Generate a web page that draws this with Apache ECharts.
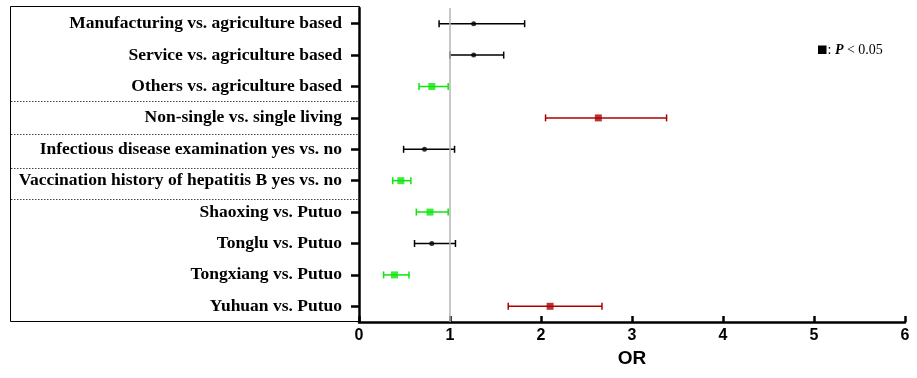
<!DOCTYPE html>
<html>
<head>
<meta charset="utf-8">
<script src="https://cdn.jsdelivr.net/npm/echarts@6/dist/echarts.min.js"></script>
<style>
html, body { margin: 0; padding: 0; background: #fff; }
#chart { width: 917px; height: 378px; }
</style>
</head>
<body>
<div id="chart"></div>
<script>
var categories = [
    'Manufacturing vs. agriculture based',
    'Service vs. agriculture based',
    'Others vs. agriculture based',
    'Non-single vs. single living',
    'Infectious disease examination yes vs. no',
    'Vaccination history of hepatitis B yes vs. no',
    'Shaoxing vs. Putuo',
    'Tonglu vs. Putuo',
    'Tongxiang vs. Putuo',
    'Yuhuan vs. Putuo'
];
var orValues = [1.26, 1.26, 0.80, 2.63, 0.72, 0.46, 0.78, 0.80, 0.39, 2.10];
var ciLower  = [0.88, 1.00, 0.66, 2.05, 0.49, 0.37, 0.63, 0.61, 0.27, 1.64];
var ciUpper  = [1.82, 1.59, 0.98, 3.38, 1.05, 0.57, 0.98, 1.06, 0.55, 2.67];
var xMin = 0, xMax = 6, xStep = 1;

// significant if the CI does not cross OR = 1
function colorFor(i) {
    if (ciUpper[i] < 1) return '#0ce60c';
    if (ciLower[i] > 1) return '#ad0000';
    return '#000';
}
function isSig(i) {
    return ciUpper[i] < 1 || ciLower[i] > 1;
}

var barData = [];
var pointData = [];
for (var i = 0; i < categories.length; i++) {
    barData.push([ciLower[i], ciUpper[i], categories[i]]);
    pointData.push({
        value: [orValues[i], categories[i]],
        symbol: isSig(i) ? 'rect' : 'circle',
        symbolSize: isSig(i) ? 7 : 5,
        itemStyle: {color: colorFor(i)}
    });
}

function renderErrorBar(params, api) {
    var idx = params.dataIndex;
    var lo = api.coord([api.value(0), idx]);
    var hi = api.coord([api.value(1), idx]);
    var cap = 3.5;
    var style = {stroke: colorFor(idx), lineWidth: 1.5};
    return {
        type: 'group',
        children: [
            {type: 'line', shape: {x1: lo[0], y1: lo[1], x2: hi[0], y2: hi[1]}, style: style},
            {type: 'line', shape: {x1: lo[0], y1: lo[1] - cap, x2: lo[0], y2: lo[1] + cap}, style: style},
            {type: 'line', shape: {x1: hi[0], y1: hi[1] - cap, x2: hi[0], y2: hi[1] + cap}, style: style}
        ]
    };
}

var sepY = [101.5, 134.5, 168.5, 199.5];
var graphics = [
    {
        type: 'rect', z: 0,
        shape: {x: 10.5, y: 6.5, width: 349, height: 315},
        style: {fill: 'none', stroke: '#000', lineWidth: 1}
    },
    {
        type: 'rect', z: 10,
        shape: {x: 818, y: 45.5, width: 8.5, height: 8.5},
        style: {fill: '#000'}
    },
    {
        type: 'text', z: 10, x: 827.5, y: 50,
        style: {
            text: '{n|: }{p|P}{n| < 0.05}',
            verticalAlign: 'middle',
            rich: {
                n: {fontFamily: 'Liberation Serif', fontSize: 14, fill: '#000'},
                p: {fontFamily: 'Liberation Serif', fontSize: 14, fontWeight: 'bold', fontStyle: 'italic', fill: '#000'}
            }
        }
    }
];
sepY.forEach(function(y){
    graphics.push({
        type: 'line', z: 1,
        shape: {x1: 11, y1: y, x2: 358, y2: y},
        style: {stroke: '#444', lineWidth: 1, lineDash: [1.5, 1.5]}
    });
});

var option = {
    animation: false,
    backgroundColor: '#fff',
    grid: {
        left: 359,
        right: 12,
        top: 8,
        bottom: 56,
        containLabel: false,
        outerBoundsMode: 'none'
    },
    xAxis: {
        type: 'value',
        min: xMin,
        max: xMax,
        interval: xStep,
        name: 'OR',
        nameLocation: 'middle',
        nameGap: 27,
        nameTextStyle: {
            fontFamily: 'Liberation Sans',
            fontWeight: 'bold',
            fontSize: 19,
            color: '#000'
        },
        axisLine: {show: true, onZero: false, lineStyle: {color: '#000', width: 2.5}},
        axisTick: {show: true, inside: true, length: 6, lineStyle: {color: '#000', width: 2.5}},
        axisLabel: {
            fontFamily: 'Liberation Sans',
            fontWeight: 'bold',
            fontSize: 16,
            color: '#000',
            margin: 6
        },
        splitLine: {show: false}
    },
    yAxis: {
        type: 'category',
        inverse: true,
        data: categories,
        axisLine: {show: true, onZero: false, lineStyle: {color: '#000', width: 2.5}},
        axisTick: {show: true, alignWithLabel: true, inside: false, length: 8, lineStyle: {color: '#000', width: 2.5}},
        axisLabel: {
            fontFamily: 'Liberation Serif',
            fontWeight: 'bold',
            fontSize: 17.5,
            color: '#000',
            margin: 17,
            padding: [2, 0, 0, 0]
        },
        splitLine: {show: false}
    },
    graphic: graphics,
    series: [
        {
            type: 'custom',
            name: 'CI',
            renderItem: renderErrorBar,
            encode: {x: [0, 1], y: 2},
            data: barData,
            z: 3
        },
        {
            type: 'scatter',
            name: 'OR',
            data: pointData,
            z: 4,
            markLine: {
                silent: true,
                symbol: 'none',
                label: {show: false},
                lineStyle: {color: '#b5b5b5', width: 1.5, type: 'solid'},
                data: [{xAxis: 1}]
            }
        }
    ]
};

var myChart = echarts.init(document.getElementById('chart'));
myChart.setOption(option);
</script>
</body>
</html>
